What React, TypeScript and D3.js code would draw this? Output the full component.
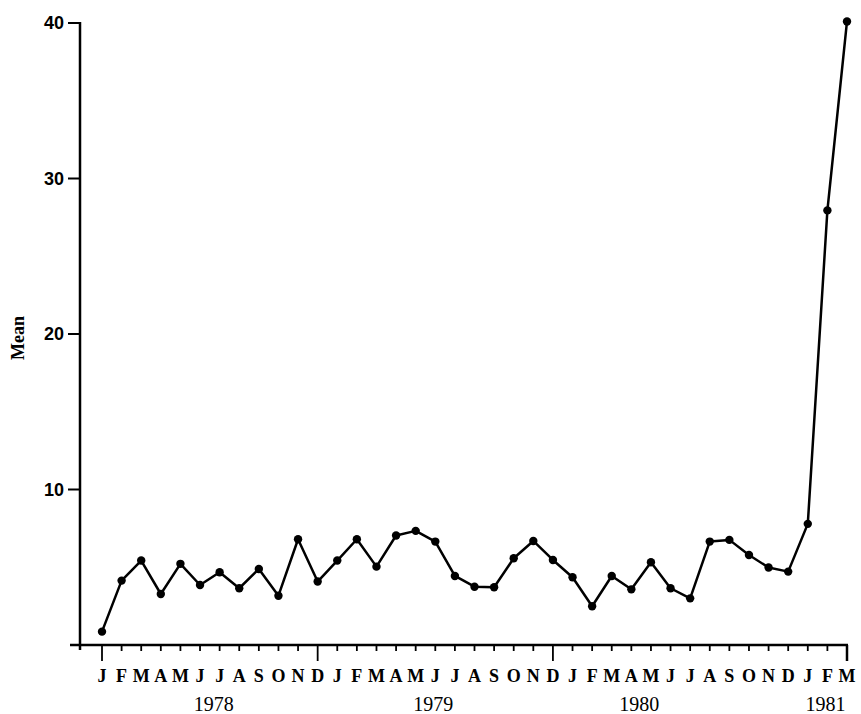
import React from "react";
import * as d3 from "d3";

const monthLabels = ["J","F","M","A","M","J","J","A","S","O","N","D","J","F","M","A","M","J","J","A","S","O","N","D","J","F","M","A","M","J","J","A","S","O","N","D","J","F","M"];
const meanValues = [0.86,4.14,5.43,3.28,5.22,3.86,4.68,3.65,4.89,3.17,6.8,4.08,5.43,6.8,5.04,7.04,7.34,6.65,4.44,3.75,3.71,5.58,6.69,5.47,4.36,2.49,4.44,3.58,5.32,3.65,3.0,6.65,6.76,5.79,4.98,4.72,7.79,27.95,40.1];
const yTicks = [10, 20, 30, 40];
const yearLabels = ["1978", "1979", "1980", "1981"];
const yearCenters = [5.7, 16.9, 27.4, 36.9];
const longTickIdx = [0, 11, 23, 38];

export default function App() {
  const W = 861, H = 714;
  const x = d3.scaleLinear().domain([0, 38]).range([102, 847]);
  const y = d3.scaleLinear().domain([0, 40]).range([645, 23]);
  const line = d3.line<number>().x((_, i) => x(i)).y((d) => y(d));
  const font = "'Liberation Serif', 'DejaVu Serif', serif";
  const sans = "'Liberation Sans', Arial, sans-serif";
  return (
    <svg width={W} height={H} style={{ position: "absolute", left: 0, top: 0, background: "#fff" }}>
      <rect width={W} height={H} fill="#fff" />
      <line x1={80} x2={80} y1={y(40) - 1} y2={y(0) + 5} stroke="#000" strokeWidth={2.5} />
      <line x1={70} x2={x(38) + 1} y1={y(0)} y2={y(0)} stroke="#000" strokeWidth={2.5} />
      {yTicks.map((t) => (
        <g key={t}>
          <line x1={68} x2={80} y1={y(t)} y2={y(t)} stroke="#000" strokeWidth={2} />
          <text x={64} y={y(t)} dy="0.36em" textAnchor="end" fontFamily={sans} fontWeight="bold" fontSize={18}>{t}</text>
        </g>
      ))}
      {monthLabels.map((m, i) => (
        <g key={i}>
          <line x1={x(i)} x2={x(i)} y1={y(0)} y2={y(0) + (longTickIdx.includes(i) ? 16 : 6)} stroke="#000" strokeWidth={i === 38 ? 2.5 : 1.8} />
          <text x={x(i)} y={682} textAnchor="middle" fontFamily={font} fontWeight="bold" fontSize={18}>{m}</text>
        </g>
      ))}
      {yearLabels.map((yr, i) => (
        <text key={yr} x={x(yearCenters[i])} y={711} textAnchor="middle" fontFamily={font} fontSize={20}>{yr}</text>
      ))}
      <text transform={`translate(24,338) rotate(-90)`} textAnchor="middle" fontFamily={font} fontWeight="bold" fontSize={18}>Mean</text>
      <path d={line(meanValues) || ""} fill="none" stroke="#000" strokeWidth={2.5} strokeLinejoin="round" />
      {meanValues.map((v, i) => (
        <circle key={i} cx={x(i)} cy={y(v)} r={4.2} fill="#000" />
      ))}
    </svg>
  );
}
